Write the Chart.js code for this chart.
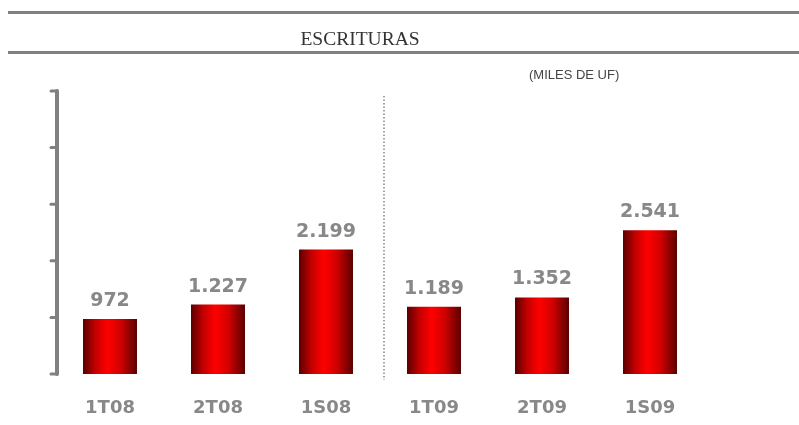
<!DOCTYPE html>
<html>
<head>
<meta charset="utf-8">
<script src="https://cdn.jsdelivr.net/npm/chart.js@4.4.0/dist/chart.umd.min.js"></script>
<style>
  body { margin: 0; background: #fff; }
  #wrap { width: 799px; height: 425px; }
</style>
</head>
<body>
<div id="wrap"><canvas id="myChart" width="799" height="425"></canvas></div>
<script>
// datos
var categorias = ['1T08', '2T08', '1S08', '1T09', '2T09', '1S09'];
var escrituras = [972, 1227, 2199, 1189, 1352, 2541];
var etiquetas = ['972', '1.227', '2.199', '1.189', '1.352', '2.541'];
var ejeMax = 5000;
var ejePaso = 1000;

var gris = '#808080';

// degradado horizontal de cada barra
function colorBarra(c) {
    var chart = c.chart;
    if (!chart.chartArea) return '#e00000';
    var x = chart.scales.x.getPixelForValue(c.dataIndex);
    var g = chart.ctx.createLinearGradient(x - 27, 0, x + 27, 0);
    g.addColorStop(0, '#5a0000');
    g.addColorStop(0.22, '#c00000');
    g.addColorStop(0.45, '#ff0000');
    g.addColorStop(0.7, '#d00000');
    g.addColorStop(1, '#5a0000');
    return g;
}

var decoracion = {
    id: 'decoracion',
    beforeDraw: function(chart) {
        var ctx = chart.ctx;
        var area = chart.chartArea;
        var y = chart.scales.y;
        ctx.save();
        // lineas del titulo
        ctx.fillStyle = gris;
        ctx.fillRect(8, 11, 791, 3);
        ctx.fillRect(8, 51, 791, 3);
        ctx.fillStyle = '#333';
        ctx.font = '19.5px "Liberation Serif"';
        ctx.textAlign = 'center';
        ctx.textBaseline = 'alphabetic';
        ctx.fillText('ESCRITURAS', 360, 45);
        ctx.fillStyle = '#444';
        ctx.font = '13px "Liberation Sans"';
        ctx.textAlign = 'left';
        ctx.fillText('(MILES DE UF)', 529, 79);

        // eje vertical
        ctx.strokeStyle = gris;
        ctx.lineCap = 'round';
        ctx.lineWidth = 4;
        ctx.beginPath();
        ctx.moveTo(area.left + 1, y.getPixelForValue(0));
        ctx.lineTo(area.left + 1, y.getPixelForValue(ejeMax));
        ctx.stroke();
        ctx.lineWidth = 3;
        for (var v = 0; v <= ejeMax; v += ejePaso) {
            var py = y.getPixelForValue(v);
            ctx.beginPath();
            ctx.moveTo(area.left - 5, py);
            ctx.lineTo(area.left + 1, py);
            ctx.stroke();
        }

        // separador punteado
        ctx.lineCap = 'butt';
        ctx.lineWidth = 1.5;
        ctx.strokeStyle = '#888';
        ctx.setLineDash([1.5, 2]);
        ctx.beginPath();
        ctx.moveTo(384, 96);
        ctx.lineTo(384, 380);
        ctx.stroke();
        ctx.restore();
    },
    afterDatasetsDraw: function(chart) {
        var ctx = chart.ctx;
        var meta = chart.getDatasetMeta(0);
        ctx.save();
        ctx.fillStyle = '#888';
        ctx.textAlign = 'center';
        ctx.textBaseline = 'alphabetic';
        ctx.font = 'bold 19px "DejaVu Sans"';
        meta.data.forEach(function(bar, i) {
            ctx.fillText(etiquetas[i], bar.x, bar.y - 13);
        });
        ctx.font = 'bold 18px "DejaVu Sans"';
        meta.data.forEach(function(bar, i) {
            ctx.fillText(categorias[i], bar.x, 413);
        });
        ctx.restore();
    }
};

var ctx = document.getElementById('myChart');
var myChart = new Chart(ctx, {
    type: 'bar',
    data: {
        labels: categorias,
        datasets: [{
            data: escrituras,
            backgroundColor: colorBarra,
            borderWidth: 0,
            barPercentage: 0.5,
            categoryPercentage: 1
        }]
    },
    options: {
        responsive: false,
        animation: false,
        layout: { padding: { left: 56, right: 95, top: 91, bottom: 51 } },
        plugins: { legend: { display: false }, tooltip: { enabled: false } },
        scales: {
            x: { display: false },
            y: { display: false, min: 0, max: ejeMax }
        }
    },
    plugins: [decoracion]
});
</script>
</body>
</html>
